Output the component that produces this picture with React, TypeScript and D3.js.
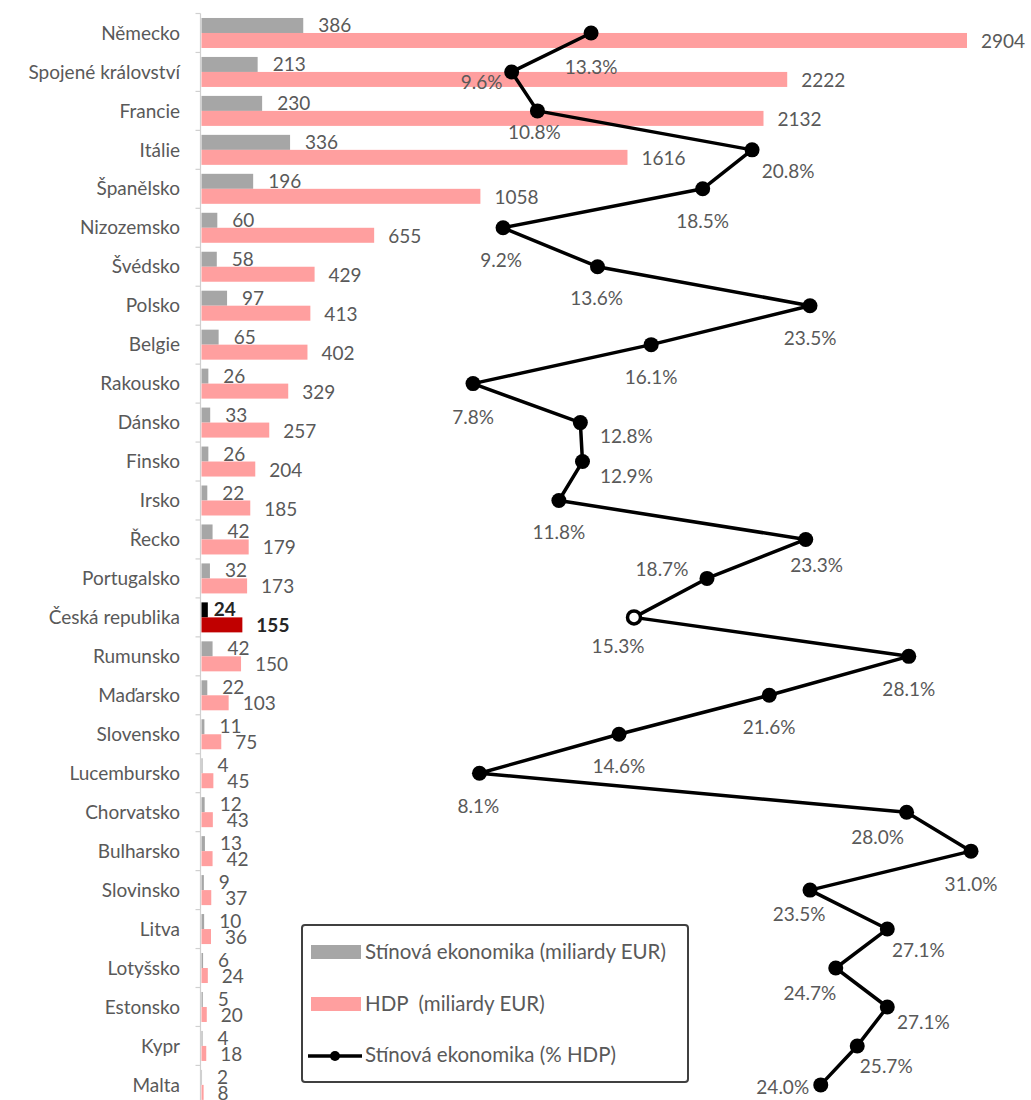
import React from "react";
import * as d3 from "d3";

const countries = [
  "Německo", "Spojené království", "Francie", "Itálie", "Španělsko", "Nizozemsko", "Švédsko",
  "Polsko", "Belgie", "Rakousko", "Dánsko", "Finsko", "Irsko", "Řecko", "Portugalsko",
  "Česká republika", "Rumunsko", "Maďarsko", "Slovensko", "Lucembursko", "Chorvatsko",
  "Bulharsko", "Slovinsko", "Litva", "Lotyšsko", "Estonsko", "Kypr", "Malta",
];
const shadowEur = [386, 213, 230, 336, 196, 60, 58, 97, 65, 26, 33, 26, 22, 42, 32, 24, 42, 22, 11, 4, 12, 13, 9, 10, 6, 5, 4, 2];
const gdpEur = [2904, 2222, 2132, 1616, 1058, 655, 429, 413, 402, 329, 257, 204, 185, 179, 173, 155, 150, 103, 75, 45, 43, 42, 37, 36, 24, 20, 18, 8];
const shadowPct = [13.3, 9.6, 10.8, 20.8, 18.5, 9.2, 13.6, 23.5, 16.1, 7.8, 12.8, 12.9, 11.8, 23.3, 18.7, 15.3, 28.1, 21.6, 14.6, 8.1, 28.0, 31.0, 23.5, 27.1, 24.7, 27.1, 25.7, 24.0];
const highlight = "Česká republika";
const legendLabels = ["Stínová ekonomika (miliardy EUR)", "HDP  (miliardy EUR)", "Stínová ekonomika (% HDP)"];

// label placement (dx, dy of label centre relative to its marker)
const pctLabelOffsets: [number, number][] = [
  [0, 34], [-30, 10], [-3, 21], [36, 21], [0, 33], [-2, 33], [-1, 32], [0, 33], [0, 33], [0, 34],
  [46, 14], [44, 15], [0, 32], [11, 26], [-45, -9], [-16, 29], [0, 33], [0, 32], [0, 32], [-1, 33],
  [-29, 25], [0, 33], [-11, 24], [31, 21], [-26, 25], [36, 15], [29, 20], [-38, 2],
];

const W = 1031;
const H = 1100;
const FONT = "Lato, 'Open Sans', sans-serif";
const FS = 19;
const LEG_FS = 20.5;
const TEXT = "#595959";
const GRAY = "#A6A6A6";
const PINK = "#FF9F9F";

export default function App() {
  const rowStep = 38.96;
  const top = 13.5;
  const y = d3.scaleBand<string>().domain(countries).range([top, top + rowStep * countries.length]).padding(0);
  const sub = d3.scaleBand<string>().domain(["shadow", "gdp"]).range([-15, 15]).padding(0);
  const x = d3.scaleLinear().domain([0, 2904]).range([201.5, 967]);
  const xp = d3.scaleLinear().domain([0, 31]).range([305.6, 971]);
  const cy = (c: string) => (y(c) as number) + y.bandwidth() / 2;

  const line = d3
    .line<number>()
    .x((d) => xp(d))
    .y((_, i) => cy(countries[i]));

  const axisX = 200.5;

  return (
    <svg width={W} height={H} style={{ position: "absolute", left: 0, top: 0, background: "#fff" }} fontFamily={FONT}>
      {/* category axis */}
      <line x1={axisX} x2={axisX} y1={top} y2={H} stroke="#D0D0D0" strokeWidth={1.2} />
      {countries.map((c) => (
        <line key={"t" + c} x1={axisX - 5} x2={axisX} y1={y(c)} y2={y(c)} stroke="#D0D0D0" strokeWidth={1.2} />
      ))}
      {countries.map((c) => (
        <text key={"l" + c} x={180} y={cy(c)} dy="0.35em" textAnchor="end" fontSize={FS} fill={TEXT}>
          {c}
        </text>
      ))}
      {/* bars */}
      {countries.map((c, i) => {
        const hl = c === highlight;
        const c0 = cy(c);
        const ys = c0 + (sub("shadow") as number);
        const yg = c0 + (sub("gdp") as number);
        return (
          <g key={"b" + c}>
            <rect x={x(0)} y={ys} width={x(shadowEur[i]) - x(0)} height={sub.bandwidth()} fill={hl ? "#000" : GRAY} />
            <rect x={x(0)} y={yg} width={x(gdpEur[i]) - x(0)} height={sub.bandwidth()} fill={hl ? "#C00000" : PINK} />
            <text
              x={x(shadowEur[i]) + (hl ? 6 : 15)}
              y={c0 - 1}
              fontSize={FS}
              fill={hl ? "#262626" : TEXT}
              fontWeight={hl ? "bold" : "normal"}
            >
              {shadowEur[i]}
            </text>
            <text
              x={x(gdpEur[i]) + 14}
              y={c0 + 15}
              fontSize={FS}
              fill={hl ? "#262626" : TEXT}
              fontWeight={hl ? "bold" : "normal"}
            >
              {gdpEur[i]}
            </text>
          </g>
        );
      })}
      {/* line */}
      <path d={line(shadowPct) || ""} fill="none" stroke="#000" strokeWidth={3.5} strokeLinejoin="round" />
      {shadowPct.map((v, i) => {
        const hl = countries[i] === highlight;
        return (
          <circle
            key={"p" + i}
            cx={xp(v)}
            cy={cy(countries[i])}
            r={hl ? 6.5 : 7.5}
            fill={hl ? "#fff" : "#000"}
            stroke="#000"
            strokeWidth={hl ? 3.5 : 0}
          />
        );
      })}
      {shadowPct.map((v, i) => (
        <text
          key={"pl" + i}
          x={xp(v) + pctLabelOffsets[i][0]}
          y={cy(countries[i]) + pctLabelOffsets[i][1]}
          dy="0.35em"
          textAnchor="middle"
          fontSize={FS}
          fill={TEXT}
        >
          {d3.format(".1f")(v) + "%"}
        </text>
      ))}
      {/* legend */}
      <g>
        <rect x={302} y={925} width={386} height={157} rx={3} fill="#fff" stroke="#404040" strokeWidth={2} />
        <rect x={311} y={945} width={50} height={14} fill={GRAY} />
        <text x={365} y={952} dy="0.35em" fontSize={LEG_FS} fill={TEXT} style={{ whiteSpace: "pre" }}>{legendLabels[0]}</text>
        <rect x={311} y={997} width={50} height={14} fill={PINK} />
        <text x={365} y={1004} dy="0.35em" fontSize={LEG_FS} fill={TEXT} style={{ whiteSpace: "pre" }}>{legendLabels[1]}</text>
        <line x1={308} x2={362} y1={1056} y2={1056} stroke="#000" strokeWidth={3.5} />
        <circle cx={335} cy={1056} r={5} fill="#000" />
        <text x={365} y={1055} dy="0.35em" fontSize={LEG_FS} fill={TEXT} style={{ whiteSpace: "pre" }}>{legendLabels[2]}</text>
      </g>
    </svg>
  );
}
